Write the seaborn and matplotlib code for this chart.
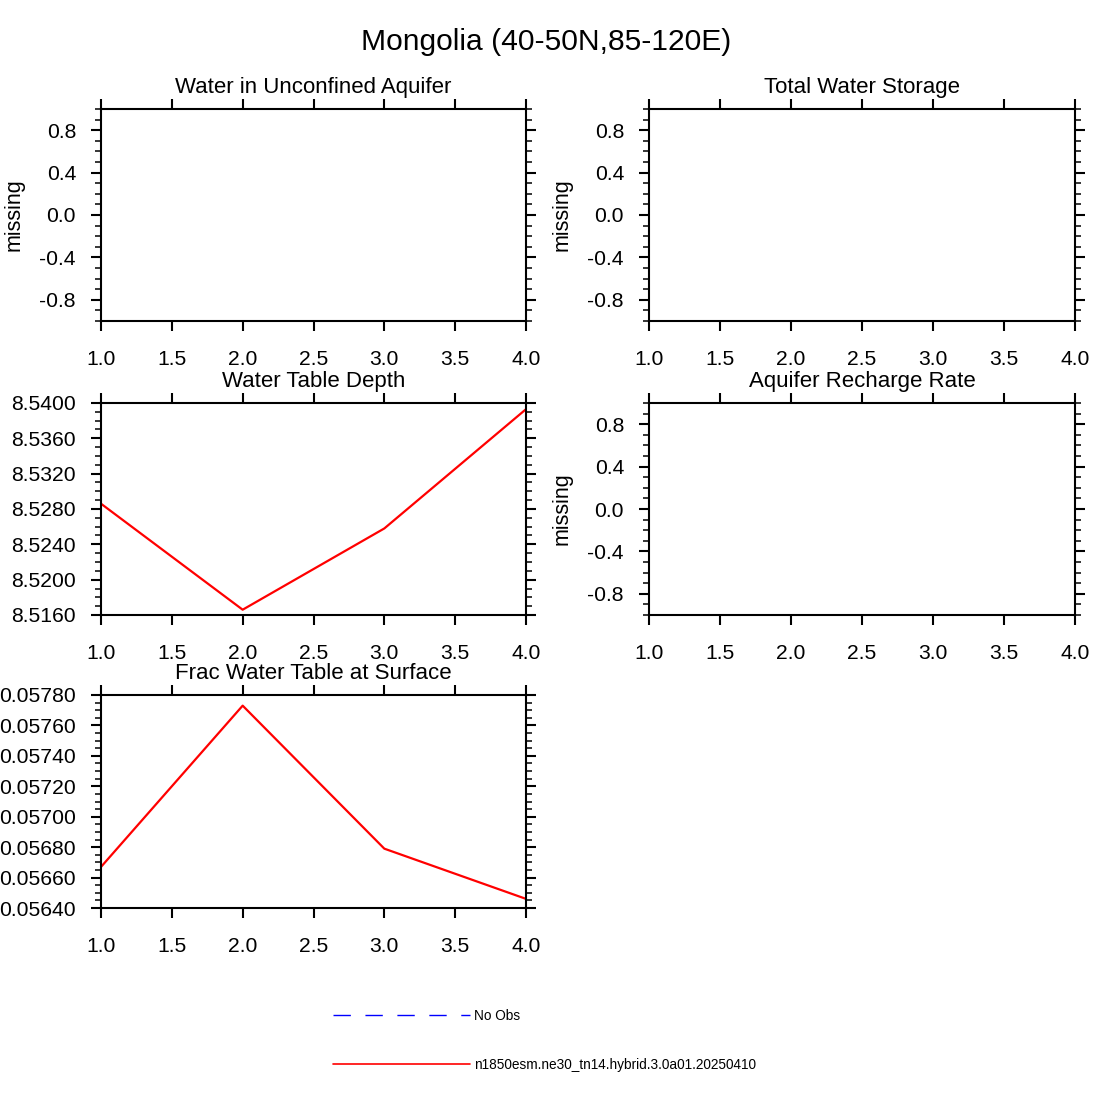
import matplotlib
matplotlib.use("Agg")
import matplotlib.pyplot as plt
import seaborn as sns
import numpy as np
import pandas as pd
from matplotlib.ticker import MultipleLocator, FixedLocator, FormatStrFormatter
from matplotlib.lines import Line2D

# ---- data ----
years = [1, 2, 3, 4]
water_table_depth = [8.5286, 8.5166, 8.5258, 8.5393]
frac_wt_surface = [0.05667, 0.05773, 0.05679, 0.05646]
panel_titles = ["Water in Unconfined Aquifer", "Total Water Storage",
                "Water Table Depth", "Aquifer Recharge Rate",
                "Frac Water Table at Surface"]
main_title = "Mongolia (40-50N,85-120E)"
legend_labels = ["No Obs", "n1850esm.ne30_tn14.hybrid.3.0a01.20250410"]
missing_label = "missing"

sns.set_style("ticks")
plt.rcParams['font.family'] = ['Liberation Sans', 'DejaVu Sans']
plt.rcParams['text.color'] = 'black'
plt.rcParams['axes.labelcolor'] = 'black'
plt.rcParams['xtick.color'] = 'black'
plt.rcParams['ytick.color'] = 'black'
plt.rcParams['axes.edgecolor'] = 'black'

W = 1094.0
fig = plt.figure(figsize=(10.94, 10.94), dpi=100)

def ax_rect(left, right, top, bottom):
    return [left / W, 1 - bottom / W, (right - left) / W, (bottom - top) / W]

rects = [
    ax_rect(101, 526, 109, 321),
    ax_rect(649, 1075, 109, 321),
    ax_rect(101, 526, 403, 615),
    ax_rect(649, 1075, 403, 615),
    ax_rect(101, 526, 695, 908),
]

axes = [fig.add_axes(r) for r in rects]

def style_axis(ax):
    ax.set_xlim(1, 4)
    ax.xaxis.set_major_locator(MultipleLocator(0.5))
    ax.xaxis.set_major_formatter(FormatStrFormatter('%.1f'))
    for s in ax.spines.values():
        s.set_linewidth(1.5)
        s.set_color('black')
        s.set_visible(True)
    ax.tick_params(axis='both', which='both', direction='out', top=True, right=True,
                   labeltop=False, labelright=False, color='black', labelcolor='black')
    ax.tick_params(axis='both', which='major', length=7, width=1.5, labelsize=15.2)
    ax.tick_params(axis='y', which='minor', length=4, width=1.1)
    ax.tick_params(axis='x', which='minor', length=0)
    ax.tick_params(axis='x', which='major', pad=14)
    ax.tick_params(axis='y', which='major', pad=11)
    ax.grid(False)
    ax.set_facecolor('white')

for i, ax in enumerate(axes):
    style_axis(ax)
    ax.set_title(panel_titles[i], fontsize=16, y=1.076, pad=0, color='black')

# empty "missing" panels
for i in (0, 1, 3):
    ax = axes[i]
    ax.set_ylim(-1, 1)
    ax.yaxis.set_major_locator(FixedLocator([-0.8, -0.4, 0.0, 0.4, 0.8]))
    ax.yaxis.set_major_formatter(FormatStrFormatter('%.1f'))
    ax.yaxis.set_minor_locator(MultipleLocator(0.1))
    ax.set_ylabel(missing_label, fontsize=15.5, color='black')
    ax.yaxis.set_label_coords(-0.18, 0.5)
    ax.set_xlabel("")

# Water Table Depth
ax = axes[2]
df_wtd = pd.DataFrame({"year": years, "value": water_table_depth})
sns.lineplot(data=df_wtd, x="year", y="value", ax=ax, color='red', linewidth=1.6)
ax.set_ylim(8.516, 8.540)
ax.yaxis.set_major_locator(MultipleLocator(0.004))
ax.yaxis.set_minor_locator(MultipleLocator(0.001))
ax.yaxis.set_major_formatter(FormatStrFormatter('%.4f'))
ax.set_xlim(1, 4)
ax.set_xlabel("")
ax.set_ylabel("")

# Frac Water Table at Surface
ax = axes[4]
df_frac = pd.DataFrame({"year": years, "value": frac_wt_surface})
sns.lineplot(data=df_frac, x="year", y="value", ax=ax, color='red', linewidth=1.6)
ax.set_ylim(0.0564, 0.0578)
ax.yaxis.set_major_locator(MultipleLocator(0.0002))
ax.yaxis.set_minor_locator(MultipleLocator(0.00005))
ax.yaxis.set_major_formatter(FormatStrFormatter('%.5f'))
ax.set_xlim(1, 4)
ax.set_xlabel("")
ax.set_ylabel("")

fig.text(0.4996, 1 - 42 / W, main_title, ha='center', va='center', fontsize=21.6,
         color='black')

handles = [
    Line2D([], [], color='blue', linewidth=1.0, linestyle=(0, (12.5, 10.5))),
    Line2D([], [], color='red', linewidth=1.2),
]
fig.legend(handles, legend_labels, loc='upper left',
           bbox_to_anchor=(333 / W, 1 - 1009 / W), frameon=False,
           fontsize=9.8, handlelength=10.1, handletextpad=0.25,
           labelspacing=2.55, borderpad=0, borderaxespad=0, labelcolor='black')

fig.savefig("out.png", dpi=100, facecolor='white')
